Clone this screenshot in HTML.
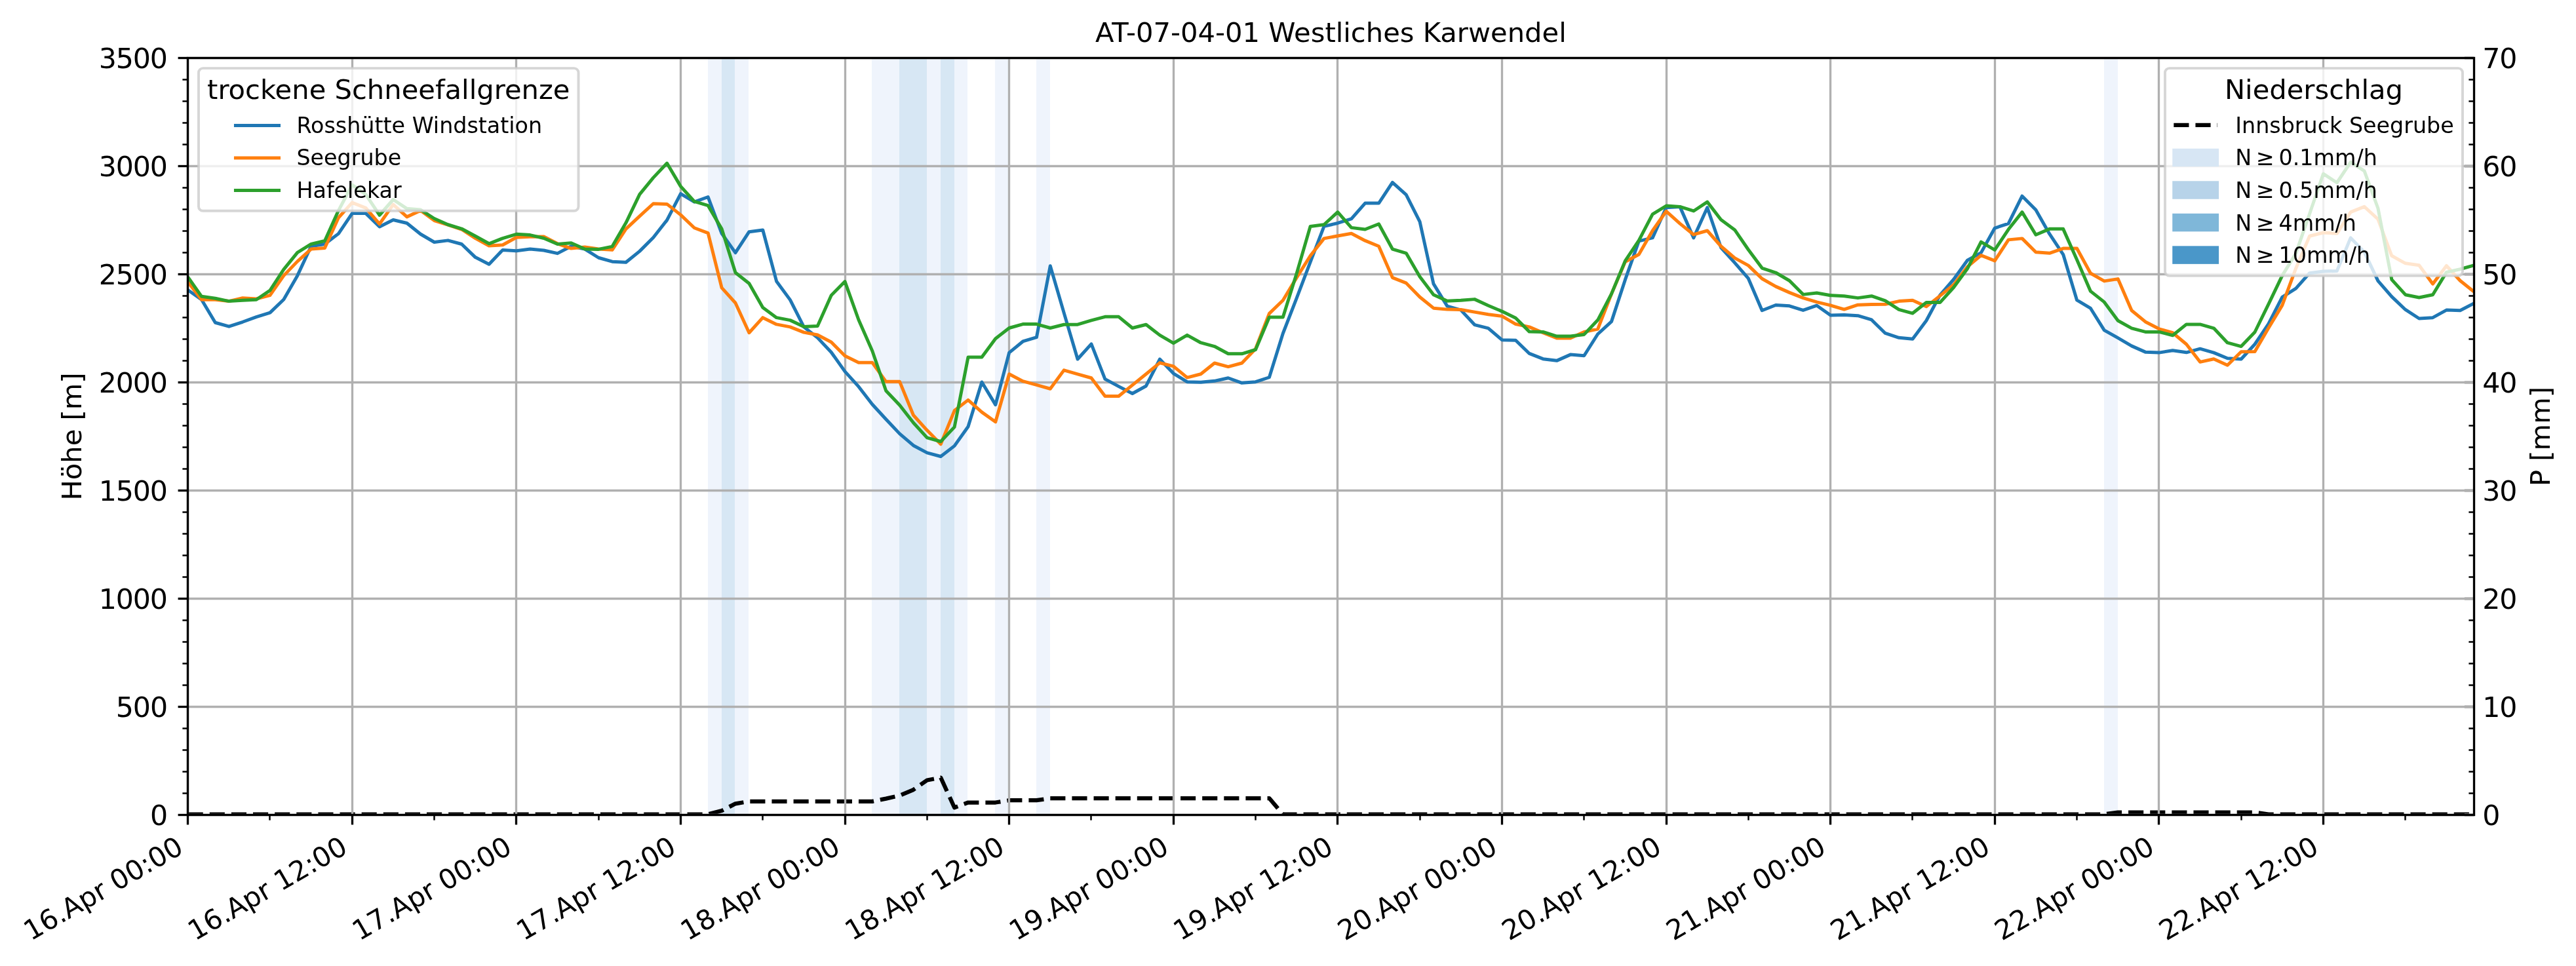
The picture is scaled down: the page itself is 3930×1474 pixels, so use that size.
<!DOCTYPE html>
<html lang="de"><head><meta charset="utf-8"><title>AT-07-04-01 Westliches Karwendel</title>
<style>html,body{margin:0;padding:0;background:#fff;}body{width:3930px;height:1474px;overflow:hidden;}svg{display:block;will-change:transform;}text{font-family:"DejaVu Sans","Liberation Sans",sans-serif;fill:#000;}</style>
</head><body>
<svg width="3930" height="1474" viewBox="0 0 3930 1474">
<defs><clipPath id="ax"><rect x="286.65" y="88.50" width="3487.50" height="1155.00"/></clipPath></defs>
<rect x="0" y="0" width="3930" height="1474" fill="#ffffff"/>
<g id="spans">
<rect x="1080.00" y="88.50" width="21.00" height="1155.00" fill="#eff4fc"/>
<rect x="1101.00" y="88.50" width="20.00" height="1155.00" fill="#d7e7f4"/>
<rect x="1121.00" y="88.50" width="21.00" height="1155.00" fill="#eff4fc"/>
<rect x="1330.00" y="88.50" width="42.00" height="1155.00" fill="#eff4fc"/>
<rect x="1372.00" y="88.50" width="42.00" height="1155.00" fill="#d7e7f4"/>
<rect x="1414.00" y="88.50" width="21.00" height="1155.00" fill="#eff4fc"/>
<rect x="1435.00" y="88.50" width="21.00" height="1155.00" fill="#d7e7f4"/>
<rect x="1456.00" y="88.50" width="20.00" height="1155.00" fill="#eff4fc"/>
<rect x="1518.00" y="88.50" width="21.00" height="1155.00" fill="#eff4fc"/>
<rect x="1581.00" y="88.50" width="21.00" height="1155.00" fill="#eff4fc"/>
<rect x="3210.00" y="88.50" width="21.00" height="1155.00" fill="#eff4fc"/>
</g>
<g clip-path="url(#ax)"><polyline points="286.65,1242.50 307.53,1242.50 328.42,1242.50 349.30,1242.50 370.18,1242.50 391.07,1242.50 411.95,1242.50 432.83,1242.50 453.72,1242.50 474.60,1242.50 495.48,1242.50 516.37,1242.50 537.25,1242.50 558.13,1242.50 579.02,1242.50 599.90,1242.50 620.78,1242.50 641.66,1242.50 662.55,1242.50 683.43,1242.50 704.31,1242.50 725.20,1242.50 746.08,1242.50 766.96,1242.50 787.85,1242.50 808.73,1242.50 829.61,1242.50 850.50,1242.50 871.38,1242.50 892.26,1242.50 913.15,1242.50 934.03,1242.50 954.91,1242.50 975.80,1242.50 996.68,1242.50 1017.56,1242.50 1038.45,1242.50 1059.33,1242.50 1080.21,1242.50 1101.10,1237.06 1121.98,1226.33 1142.86,1222.87 1163.75,1222.87 1184.63,1222.87 1205.51,1222.87 1226.40,1222.87 1247.28,1222.87 1268.16,1222.87 1289.05,1222.87 1309.93,1222.87 1330.81,1222.87 1351.69,1218.58 1372.58,1213.79 1393.46,1205.05 1414.34,1190.53 1435.23,1186.57 1456.11,1232.27 1476.99,1224.52 1497.88,1224.52 1518.76,1224.52 1539.64,1221.21 1560.53,1221.21 1581.41,1221.21 1602.29,1218.08 1623.18,1218.08 1644.06,1218.08 1664.94,1218.08 1685.83,1218.08 1706.71,1218.08 1727.59,1218.08 1748.48,1218.08 1769.36,1218.08 1790.24,1218.08 1811.13,1218.08 1832.01,1218.08 1852.89,1218.08 1873.78,1218.08 1894.66,1218.08 1915.54,1218.08 1936.43,1218.08 1957.31,1242.50 1978.19,1242.50 1999.08,1242.50 2019.96,1242.50 2040.84,1242.50 2061.72,1242.50 2082.61,1242.50 2103.49,1242.50 2124.37,1242.50 2145.26,1242.50 2166.14,1242.50 2187.02,1242.50 2207.91,1242.50 2228.79,1242.50 2249.67,1242.50 2270.56,1242.50 2291.44,1242.50 2312.32,1242.50 2333.21,1242.50 2354.09,1242.50 2374.97,1242.50 2395.86,1242.50 2416.74,1242.50 2437.62,1242.50 2458.51,1242.50 2479.39,1242.50 2500.27,1242.50 2521.16,1242.50 2542.04,1242.50 2562.92,1242.50 2583.81,1242.50 2604.69,1242.50 2625.57,1242.50 2646.46,1242.50 2667.34,1242.50 2688.22,1242.50 2709.11,1242.50 2729.99,1242.50 2750.87,1242.50 2771.75,1242.50 2792.64,1242.50 2813.52,1242.50 2834.40,1242.50 2855.29,1242.50 2876.17,1242.50 2897.05,1242.50 2917.94,1242.50 2938.82,1242.50 2959.70,1242.50 2980.59,1242.50 3001.47,1242.50 3022.35,1242.50 3043.24,1242.50 3064.12,1242.50 3085.00,1242.50 3105.89,1242.50 3126.77,1242.50 3147.65,1242.50 3168.54,1242.50 3189.42,1242.50 3210.30,1242.50 3231.19,1239.53 3252.07,1239.53 3272.95,1239.53 3293.84,1239.53 3314.72,1239.53 3335.60,1239.53 3356.49,1239.53 3377.37,1239.53 3398.25,1239.53 3419.14,1239.53 3440.02,1239.53 3460.90,1242.50 3481.78,1242.50 3502.67,1242.50 3523.55,1242.50 3544.43,1242.50 3565.32,1242.50 3586.20,1242.50 3607.08,1242.50 3627.97,1242.50 3648.85,1242.50 3669.73,1242.50 3690.62,1242.50 3711.50,1242.50 3732.38,1242.50 3753.27,1242.50 3774.15,1242.50" fill="none" stroke="#000" stroke-width="6.25" stroke-dasharray="23.125 10" stroke-linejoin="round"/></g>
<g id="rticks" stroke="#000" stroke-width="2.5">
<line x1="3766.40" y1="1210.50" x2="3774.50" y2="1210.50"/>
<line x1="3766.40" y1="1177.50" x2="3774.50" y2="1177.50"/>
<line x1="3766.40" y1="1144.50" x2="3774.50" y2="1144.50"/>
<line x1="3766.40" y1="1111.50" x2="3774.50" y2="1111.50"/>
<line x1="3766.40" y1="1045.50" x2="3774.50" y2="1045.50"/>
<line x1="3766.40" y1="1012.50" x2="3774.50" y2="1012.50"/>
<line x1="3766.40" y1="979.50" x2="3774.50" y2="979.50"/>
<line x1="3766.40" y1="946.50" x2="3774.50" y2="946.50"/>
<line x1="3766.40" y1="880.50" x2="3774.50" y2="880.50"/>
<line x1="3766.40" y1="847.50" x2="3774.50" y2="847.50"/>
<line x1="3766.40" y1="814.50" x2="3774.50" y2="814.50"/>
<line x1="3766.40" y1="781.50" x2="3774.50" y2="781.50"/>
<line x1="3766.40" y1="715.50" x2="3774.50" y2="715.50"/>
<line x1="3766.40" y1="682.50" x2="3774.50" y2="682.50"/>
<line x1="3766.40" y1="649.50" x2="3774.50" y2="649.50"/>
<line x1="3766.40" y1="616.50" x2="3774.50" y2="616.50"/>
<line x1="3766.40" y1="550.50" x2="3774.50" y2="550.50"/>
<line x1="3766.40" y1="517.50" x2="3774.50" y2="517.50"/>
<line x1="3766.40" y1="484.50" x2="3774.50" y2="484.50"/>
<line x1="3766.40" y1="451.50" x2="3774.50" y2="451.50"/>
<line x1="3766.40" y1="385.50" x2="3774.50" y2="385.50"/>
<line x1="3766.40" y1="352.50" x2="3774.50" y2="352.50"/>
<line x1="3766.40" y1="319.50" x2="3774.50" y2="319.50"/>
<line x1="3766.40" y1="286.50" x2="3774.50" y2="286.50"/>
<line x1="3766.40" y1="220.50" x2="3774.50" y2="220.50"/>
<line x1="3766.40" y1="187.50" x2="3774.50" y2="187.50"/>
<line x1="3766.40" y1="154.50" x2="3774.50" y2="154.50"/>
<line x1="3766.40" y1="121.50" x2="3774.50" y2="121.50"/>
</g>
<g id="grid" stroke="#b0b0b0" stroke-width="3.33">
<line x1="286.50" y1="88.50" x2="286.50" y2="1243.50"/>
<line x1="537.50" y1="88.50" x2="537.50" y2="1243.50"/>
<line x1="787.50" y1="88.50" x2="787.50" y2="1243.50"/>
<line x1="1038.50" y1="88.50" x2="1038.50" y2="1243.50"/>
<line x1="1289.50" y1="88.50" x2="1289.50" y2="1243.50"/>
<line x1="1539.50" y1="88.50" x2="1539.50" y2="1243.50"/>
<line x1="1790.50" y1="88.50" x2="1790.50" y2="1243.50"/>
<line x1="2040.50" y1="88.50" x2="2040.50" y2="1243.50"/>
<line x1="2291.50" y1="88.50" x2="2291.50" y2="1243.50"/>
<line x1="2542.50" y1="88.50" x2="2542.50" y2="1243.50"/>
<line x1="2792.50" y1="88.50" x2="2792.50" y2="1243.50"/>
<line x1="3043.50" y1="88.50" x2="3043.50" y2="1243.50"/>
<line x1="3293.50" y1="88.50" x2="3293.50" y2="1243.50"/>
<line x1="3544.50" y1="88.50" x2="3544.50" y2="1243.50"/>
<line x1="286.50" y1="1243.50" x2="3774.50" y2="1243.50"/>
<line x1="286.50" y1="1078.50" x2="3774.50" y2="1078.50"/>
<line x1="286.50" y1="913.50" x2="3774.50" y2="913.50"/>
<line x1="286.50" y1="748.50" x2="3774.50" y2="748.50"/>
<line x1="286.50" y1="583.50" x2="3774.50" y2="583.50"/>
<line x1="286.50" y1="418.50" x2="3774.50" y2="418.50"/>
<line x1="286.50" y1="253.50" x2="3774.50" y2="253.50"/>
<line x1="286.50" y1="88.50" x2="3774.50" y2="88.50"/>
</g>
<g id="rmaj" stroke="#b0b0b0" stroke-width="4.4">
<line x1="3759.90" y1="1243.50" x2="3774.50" y2="1243.50"/>
<line x1="3759.90" y1="1078.50" x2="3774.50" y2="1078.50"/>
<line x1="3759.90" y1="913.50" x2="3774.50" y2="913.50"/>
<line x1="3759.90" y1="748.50" x2="3774.50" y2="748.50"/>
<line x1="3759.90" y1="583.50" x2="3774.50" y2="583.50"/>
<line x1="3759.90" y1="418.50" x2="3774.50" y2="418.50"/>
<line x1="3759.90" y1="253.50" x2="3774.50" y2="253.50"/>
<line x1="3759.90" y1="88.50" x2="3774.50" y2="88.50"/>
</g>
<g id="ticks" stroke="#000">
<line x1="271.60" y1="1243.50" x2="286.50" y2="1243.50" stroke-width="3.33"/>
<line x1="278.40" y1="1210.50" x2="286.50" y2="1210.50" stroke-width="2.5"/>
<line x1="278.40" y1="1177.50" x2="286.50" y2="1177.50" stroke-width="2.5"/>
<line x1="278.40" y1="1144.50" x2="286.50" y2="1144.50" stroke-width="2.5"/>
<line x1="278.40" y1="1111.50" x2="286.50" y2="1111.50" stroke-width="2.5"/>
<line x1="271.60" y1="1078.50" x2="286.50" y2="1078.50" stroke-width="3.33"/>
<line x1="278.40" y1="1045.50" x2="286.50" y2="1045.50" stroke-width="2.5"/>
<line x1="278.40" y1="1012.50" x2="286.50" y2="1012.50" stroke-width="2.5"/>
<line x1="278.40" y1="979.50" x2="286.50" y2="979.50" stroke-width="2.5"/>
<line x1="278.40" y1="946.50" x2="286.50" y2="946.50" stroke-width="2.5"/>
<line x1="271.60" y1="913.50" x2="286.50" y2="913.50" stroke-width="3.33"/>
<line x1="278.40" y1="880.50" x2="286.50" y2="880.50" stroke-width="2.5"/>
<line x1="278.40" y1="847.50" x2="286.50" y2="847.50" stroke-width="2.5"/>
<line x1="278.40" y1="814.50" x2="286.50" y2="814.50" stroke-width="2.5"/>
<line x1="278.40" y1="781.50" x2="286.50" y2="781.50" stroke-width="2.5"/>
<line x1="271.60" y1="748.50" x2="286.50" y2="748.50" stroke-width="3.33"/>
<line x1="278.40" y1="715.50" x2="286.50" y2="715.50" stroke-width="2.5"/>
<line x1="278.40" y1="682.50" x2="286.50" y2="682.50" stroke-width="2.5"/>
<line x1="278.40" y1="649.50" x2="286.50" y2="649.50" stroke-width="2.5"/>
<line x1="278.40" y1="616.50" x2="286.50" y2="616.50" stroke-width="2.5"/>
<line x1="271.60" y1="583.50" x2="286.50" y2="583.50" stroke-width="3.33"/>
<line x1="278.40" y1="550.50" x2="286.50" y2="550.50" stroke-width="2.5"/>
<line x1="278.40" y1="517.50" x2="286.50" y2="517.50" stroke-width="2.5"/>
<line x1="278.40" y1="484.50" x2="286.50" y2="484.50" stroke-width="2.5"/>
<line x1="278.40" y1="451.50" x2="286.50" y2="451.50" stroke-width="2.5"/>
<line x1="271.60" y1="418.50" x2="286.50" y2="418.50" stroke-width="3.33"/>
<line x1="278.40" y1="385.50" x2="286.50" y2="385.50" stroke-width="2.5"/>
<line x1="278.40" y1="352.50" x2="286.50" y2="352.50" stroke-width="2.5"/>
<line x1="278.40" y1="319.50" x2="286.50" y2="319.50" stroke-width="2.5"/>
<line x1="278.40" y1="286.50" x2="286.50" y2="286.50" stroke-width="2.5"/>
<line x1="271.60" y1="253.50" x2="286.50" y2="253.50" stroke-width="3.33"/>
<line x1="278.40" y1="220.50" x2="286.50" y2="220.50" stroke-width="2.5"/>
<line x1="278.40" y1="187.50" x2="286.50" y2="187.50" stroke-width="2.5"/>
<line x1="278.40" y1="154.50" x2="286.50" y2="154.50" stroke-width="2.5"/>
<line x1="278.40" y1="121.50" x2="286.50" y2="121.50" stroke-width="2.5"/>
<line x1="271.60" y1="88.50" x2="286.50" y2="88.50" stroke-width="3.33"/>
<line x1="286.50" y1="1243.50" x2="286.50" y2="1258.40" stroke-width="3.33"/>
<line x1="411.50" y1="1243.50" x2="411.50" y2="1251.60" stroke-width="2.5"/>
<line x1="537.50" y1="1243.50" x2="537.50" y2="1258.40" stroke-width="3.33"/>
<line x1="662.50" y1="1243.50" x2="662.50" y2="1251.60" stroke-width="2.5"/>
<line x1="787.50" y1="1243.50" x2="787.50" y2="1258.40" stroke-width="3.33"/>
<line x1="913.50" y1="1243.50" x2="913.50" y2="1251.60" stroke-width="2.5"/>
<line x1="1038.50" y1="1243.50" x2="1038.50" y2="1258.40" stroke-width="3.33"/>
<line x1="1163.50" y1="1243.50" x2="1163.50" y2="1251.60" stroke-width="2.5"/>
<line x1="1289.50" y1="1243.50" x2="1289.50" y2="1258.40" stroke-width="3.33"/>
<line x1="1414.50" y1="1243.50" x2="1414.50" y2="1251.60" stroke-width="2.5"/>
<line x1="1539.50" y1="1243.50" x2="1539.50" y2="1258.40" stroke-width="3.33"/>
<line x1="1664.50" y1="1243.50" x2="1664.50" y2="1251.60" stroke-width="2.5"/>
<line x1="1790.50" y1="1243.50" x2="1790.50" y2="1258.40" stroke-width="3.33"/>
<line x1="1915.50" y1="1243.50" x2="1915.50" y2="1251.60" stroke-width="2.5"/>
<line x1="2040.50" y1="1243.50" x2="2040.50" y2="1258.40" stroke-width="3.33"/>
<line x1="2166.50" y1="1243.50" x2="2166.50" y2="1251.60" stroke-width="2.5"/>
<line x1="2291.50" y1="1243.50" x2="2291.50" y2="1258.40" stroke-width="3.33"/>
<line x1="2416.50" y1="1243.50" x2="2416.50" y2="1251.60" stroke-width="2.5"/>
<line x1="2542.50" y1="1243.50" x2="2542.50" y2="1258.40" stroke-width="3.33"/>
<line x1="2667.50" y1="1243.50" x2="2667.50" y2="1251.60" stroke-width="2.5"/>
<line x1="2792.50" y1="1243.50" x2="2792.50" y2="1258.40" stroke-width="3.33"/>
<line x1="2917.50" y1="1243.50" x2="2917.50" y2="1251.60" stroke-width="2.5"/>
<line x1="3043.50" y1="1243.50" x2="3043.50" y2="1258.40" stroke-width="3.33"/>
<line x1="3168.50" y1="1243.50" x2="3168.50" y2="1251.60" stroke-width="2.5"/>
<line x1="3293.50" y1="1243.50" x2="3293.50" y2="1258.40" stroke-width="3.33"/>
<line x1="3419.50" y1="1243.50" x2="3419.50" y2="1251.60" stroke-width="2.5"/>
<line x1="3544.50" y1="1243.50" x2="3544.50" y2="1258.40" stroke-width="3.33"/>
<line x1="3669.50" y1="1243.50" x2="3669.50" y2="1251.60" stroke-width="2.5"/>
</g>
<g clip-path="url(#ax)" fill="none" stroke-width="5" stroke-linejoin="round" stroke-linecap="butt">
<polyline points="286.65,442.42 307.53,457.27 328.42,492.25 349.30,498.20 370.18,491.26 391.07,483.67 411.95,477.08 432.83,456.95 453.72,420.64 474.60,375.76 495.48,372.47 516.37,356.62 537.25,325.61 558.13,325.61 579.02,346.07 599.90,335.50 620.78,340.46 641.66,357.28 662.55,369.50 683.43,366.86 704.31,372.47 725.20,392.60 746.08,403.15 766.96,381.38 787.85,382.70 808.73,380.05 829.61,382.03 850.50,386.65 871.38,375.76 892.26,380.05 913.15,393.25 934.03,399.20 954.91,400.18 975.80,383.36 996.68,362.57 1017.56,335.84 1038.45,295.58 1059.33,308.12 1080.21,300.52 1101.10,356.29 1121.98,385.66 1142.86,353.65 1163.75,351.01 1184.63,429.23 1205.51,457.61 1226.40,498.86 1247.28,515.36 1268.16,537.47 1289.05,566.84 1309.93,589.93 1330.81,617.00 1351.69,639.76 1372.58,661.88 1393.46,679.70 1414.34,690.91 1435.23,696.52 1456.11,680.36 1476.99,650.99 1497.88,583.00 1518.76,617.65 1539.64,538.12 1560.53,520.97 1581.41,514.70 1602.29,405.79 1623.18,477.40 1644.06,548.02 1664.94,524.92 1685.83,578.38 1706.71,589.61 1727.59,600.50 1748.48,588.95 1769.36,548.02 1790.24,569.80 1811.13,582.67 1832.01,583.34 1852.89,581.36 1873.78,576.74 1894.66,584.33 1915.54,582.67 1936.43,575.75 1957.31,508.75 1978.19,454.97 1999.08,399.86 2019.96,345.40 2040.84,340.46 2061.72,333.86 2082.61,310.10 2103.49,310.10 2124.37,278.41 2145.26,297.23 2166.14,338.48 2187.02,433.18 2207.91,467.17 2228.79,473.12 2249.67,495.55 2270.56,500.84 2291.44,518.65 2312.32,519.32 2333.21,539.45 2354.09,547.70 2374.97,550.34 2395.86,541.10 2416.74,542.75 2437.62,509.75 2458.51,490.61 2479.39,426.91 2500.27,367.85 2521.16,362.89 2542.04,316.70 2562.92,315.38 2583.81,362.89 2604.69,316.70 2625.57,377.75 2646.46,400.85 2667.34,424.93 2688.22,473.77 2709.11,465.52 2729.99,466.85 2750.87,473.45 2771.75,466.18 2792.64,481.03 2813.52,480.38 2834.40,481.70 2855.29,487.97 2876.17,508.42 2897.05,515.36 2917.94,517.34 2938.82,489.28 2959.70,450.35 2980.59,426.25 3001.47,397.22 3022.35,385.66 3043.24,348.04 3064.12,341.12 3085.00,299.21 3105.89,320.33 3126.77,356.96 3147.65,388.30 3168.54,457.93 3189.42,470.48 3210.30,503.80 3231.19,515.68 3252.07,527.89 3272.95,537.13 3293.84,538.12 3314.72,534.83 3335.60,537.79 3356.49,532.18 3377.37,538.12 3398.25,546.71 3419.14,548.02 3440.02,525.25 3460.90,494.24 3481.78,453.32 3502.67,440.12 3523.55,416.68 3544.43,414.04 3565.32,413.38 3586.20,362.89 3607.08,384.67 3627.97,428.57 3648.85,452.65 3669.73,472.46 3690.62,485.99 3711.50,484.66 3732.38,473.12 3753.27,473.77 3774.15,462.88" stroke="#1f77b4"/>
<polyline points="286.65,430.22 307.53,457.27 328.42,457.27 349.30,459.59 370.18,454.63 391.07,455.96 411.95,450.67 432.83,420.64 453.72,398.87 474.60,380.05 495.48,378.40 516.37,332.21 537.25,309.11 558.13,317.36 579.02,341.77 599.90,312.08 620.78,330.88 641.66,321.32 662.55,336.50 683.43,343.10 704.31,350.02 725.20,363.55 746.08,375.11 766.96,373.78 787.85,362.24 808.73,361.25 829.61,360.91 850.50,371.80 871.38,379.07 892.26,377.09 913.15,380.05 934.03,381.38 954.91,349.37 975.80,329.89 996.68,310.75 1017.56,311.41 1038.45,327.91 1059.33,347.72 1080.21,355.63 1101.10,439.12 1121.98,462.23 1142.86,507.76 1163.75,484.66 1184.63,494.89 1205.51,498.86 1226.40,507.11 1247.28,511.07 1268.16,521.96 1289.05,543.08 1309.93,553.30 1330.81,553.30 1351.69,582.35 1372.58,582.35 1393.46,633.50 1414.34,656.60 1435.23,677.72 1456.11,626.57 1476.99,610.39 1497.88,628.88 1518.76,643.73 1539.64,570.79 1560.53,581.68 1581.41,587.29 1602.29,593.24 1623.18,564.86 1644.06,570.79 1664.94,576.74 1685.83,604.46 1706.71,604.46 1727.59,587.62 1748.48,570.79 1769.36,553.63 1790.24,558.91 1811.13,576.08 1832.01,570.79 1852.89,553.97 1873.78,559.58 1894.66,553.97 1915.54,532.18 1936.43,478.39 1957.31,458.26 1978.19,423.62 1999.08,390.28 2019.96,363.88 2040.84,359.92 2061.72,356.29 2082.61,367.18 2103.49,375.76 2124.37,423.62 2145.26,431.87 2166.14,453.32 2187.02,470.14 2207.91,472.12 2228.79,472.46 2249.67,476.09 2270.56,479.72 2291.44,482.36 2312.32,494.57 2333.21,498.86 2354.09,507.76 2374.97,516.01 2395.86,516.01 2416.74,506.45 2437.62,502.15 2458.51,448.37 2479.39,399.52 2500.27,388.30 2521.16,352.00 2542.04,322.30 2562.92,341.12 2583.81,357.95 2604.69,352.00 2625.57,375.76 2646.46,393.59 2667.34,405.13 2688.22,425.26 2709.11,437.14 2729.99,446.38 2750.87,454.63 2771.75,460.90 2792.64,465.86 2813.52,472.12 2834.40,465.20 2855.29,464.53 2876.17,464.21 2897.05,459.59 2917.94,458.26 2938.82,467.84 2959.70,451.34 2980.59,434.50 3001.47,407.12 3022.35,389.62 3043.24,397.88 3064.12,365.87 3085.00,363.88 3105.89,384.67 3126.77,386.33 3147.65,379.07 3168.54,379.07 3189.42,417.01 3210.30,428.89 3231.19,425.60 3252.07,473.77 3272.95,490.93 3293.84,501.83 3314.72,507.76 3335.60,525.25 3356.49,552.32 3377.37,547.70 3398.25,557.26 3419.14,536.80 3440.02,536.48 3460.90,500.50 3481.78,465.86 3502.67,409.42 3523.55,360.25 3544.43,354.98 3565.32,356.29 3586.20,323.62 3607.08,315.38 3627.97,334.51 3648.85,390.28 3669.73,401.84 3690.62,404.80 3711.50,433.18 3732.38,405.47 3753.27,428.24 3774.15,445.07" stroke="#ff7f0e"/>
<polyline points="286.65,422.62 307.53,452.33 328.42,455.29 349.30,459.59 370.18,458.26 391.07,457.27 411.95,443.09 432.83,411.08 453.72,385.34 474.60,372.47 495.48,367.51 516.37,321.32 537.25,282.04 558.13,296.89 579.02,328.25 599.90,304.49 620.78,318.35 641.66,320.00 662.55,333.52 683.43,342.76 704.31,349.03 725.20,360.25 746.08,371.80 766.96,363.55 787.85,357.28 808.73,358.61 829.61,363.55 850.50,372.47 871.38,370.82 892.26,380.05 913.15,380.38 934.03,376.10 954.91,340.12 975.80,296.57 996.68,271.15 1017.56,249.04 1038.45,284.36 1059.33,307.46 1080.21,313.73 1101.10,349.37 1121.98,416.02 1142.86,432.52 1163.75,469.15 1184.63,484.66 1205.51,488.62 1226.40,498.52 1247.28,497.53 1268.16,450.67 1289.05,429.55 1309.93,487.97 1330.81,535.49 1351.69,596.21 1372.58,618.32 1393.46,645.04 1414.34,667.82 1435.23,673.75 1456.11,651.64 1476.99,545.05 1497.88,545.05 1518.76,516.67 1539.64,500.50 1560.53,494.57 1581.41,494.57 1602.29,500.50 1623.18,495.23 1644.06,495.23 1664.94,488.96 1685.83,483.35 1706.71,483.35 1727.59,500.50 1748.48,495.23 1769.36,511.39 1790.24,523.61 1811.13,511.39 1832.01,522.95 1852.89,528.55 1873.78,539.77 1894.66,539.77 1915.54,533.50 1936.43,484.00 1957.31,484.00 1978.19,417.35 1999.08,345.40 2019.96,342.76 2040.84,323.62 2061.72,347.38 2082.61,350.02 2103.49,341.77 2124.37,380.05 2145.26,386.33 2166.14,422.29 2187.02,449.68 2207.91,459.25 2228.79,458.26 2249.67,456.62 2270.56,466.18 2291.44,475.10 2312.32,485.33 2333.21,506.12 2354.09,506.45 2374.97,513.04 2395.86,513.04 2416.74,510.40 2437.62,488.29 2458.51,448.37 2479.39,398.21 2500.27,366.86 2521.16,326.92 2542.04,314.05 2562.92,315.38 2583.81,321.98 2604.69,308.12 2625.57,335.17 2646.46,350.68 2667.34,381.04 2688.22,409.10 2709.11,416.02 2729.99,428.24 2750.87,449.36 2771.75,447.04 2792.64,450.67 2813.52,451.66 2834.40,454.63 2855.29,451.66 2876.17,458.92 2897.05,472.46 2917.94,478.07 2938.82,461.57 2959.70,461.57 2980.59,438.47 3001.47,410.09 3022.35,369.16 3043.24,381.38 3064.12,350.02 3085.00,323.62 3105.89,358.27 3126.77,349.37 3147.65,349.37 3168.54,396.23 3189.42,444.40 3210.30,460.90 3231.19,489.28 3252.07,500.84 3272.95,506.45 3293.84,506.45 3314.72,511.73 3335.60,494.89 3356.49,494.89 3377.37,500.84 3398.25,522.95 3419.14,528.55 3440.02,506.77 3460.90,464.21 3481.78,420.64 3502.67,386.65 3523.55,326.26 3544.43,265.22 3565.32,278.75 3586.20,247.39 3607.08,260.92 3627.97,318.01 3648.85,426.59 3669.73,449.68 3690.62,453.98 3711.50,449.68 3732.38,415.37 3753.27,410.75 3774.15,404.80" stroke="#2ca02c"/>
</g>
<rect x="286.50" y="88.50" width="3488.00" height="1155.00" fill="none" stroke="#000" stroke-width="3.33"/>
<g id="ylabels" font-size="42.7" letter-spacing="-1.15" text-anchor="end">
<text x="254.90" y="1259.20">0</text>
<text x="254.90" y="1094.20">500</text>
<text x="254.90" y="929.20">1000</text>
<text x="254.90" y="764.20">1500</text>
<text x="254.90" y="599.20">2000</text>
<text x="254.90" y="434.20">2500</text>
<text x="254.90" y="269.20">3000</text>
<text x="254.90" y="104.20">3500</text>
</g>
<g id="y2labels" font-size="42.7" letter-spacing="-1.15" text-anchor="start">
<text x="3787.30" y="1259.20">0</text>
<text x="3787.30" y="1094.20">10</text>
<text x="3787.30" y="929.20">20</text>
<text x="3787.30" y="764.20">30</text>
<text x="3787.30" y="599.20">40</text>
<text x="3787.30" y="434.20">50</text>
<text x="3787.30" y="269.20">60</text>
<text x="3787.30" y="104.20">70</text>
</g>
<g id="xlabels" font-size="41.667" text-anchor="end">
<text transform="translate(282.15,1300.30) rotate(-30)">16.Apr 00:00</text>
<text transform="translate(532.75,1300.30) rotate(-30)">16.Apr 12:00</text>
<text transform="translate(783.35,1300.30) rotate(-30)">17.Apr 00:00</text>
<text transform="translate(1033.95,1300.30) rotate(-30)">17.Apr 12:00</text>
<text transform="translate(1284.55,1300.30) rotate(-30)">18.Apr 00:00</text>
<text transform="translate(1535.14,1300.30) rotate(-30)">18.Apr 12:00</text>
<text transform="translate(1785.74,1300.30) rotate(-30)">19.Apr 00:00</text>
<text transform="translate(2036.34,1300.30) rotate(-30)">19.Apr 12:00</text>
<text transform="translate(2286.94,1300.30) rotate(-30)">20.Apr 00:00</text>
<text transform="translate(2537.54,1300.30) rotate(-30)">20.Apr 12:00</text>
<text transform="translate(2788.14,1300.30) rotate(-30)">21.Apr 00:00</text>
<text transform="translate(3038.74,1300.30) rotate(-30)">21.Apr 12:00</text>
<text transform="translate(3289.34,1300.30) rotate(-30)">22.Apr 00:00</text>
<text transform="translate(3539.93,1300.30) rotate(-30)">22.Apr 12:00</text>
</g>
<text font-size="41.667" text-anchor="middle" transform="translate(124.3,666.00) rotate(-90)">Höhe [m]</text>
<text font-size="41.667" text-anchor="middle" transform="translate(3889.6,666.00) rotate(-90)">P [mm]</text>
<text font-size="41.667" text-anchor="middle" x="2030.40" y="63.9">AT-07-04-01 Westliches Karwendel</text>
<g id="legend1">
<rect x="303.00" y="104.10" width="579.50" height="217.70" rx="6.67" ry="6.67" fill="#fff" fill-opacity="0.8" stroke="#ccc" stroke-opacity="0.8" stroke-width="3.90"/>
<text font-size="41.667" text-anchor="middle" x="592.75" y="150.9">trockene Schneefallgrenze</text>
<line x1="359.46" y1="191.40" x2="425.5" y2="191.40" stroke="#1f77b4" stroke-width="5" stroke-linecap="square"/>
<text font-size="33.333" x="452.4" y="202.90">Rosshütte Windstation</text>
<line x1="359.46" y1="240.95" x2="425.5" y2="240.95" stroke="#ff7f0e" stroke-width="5" stroke-linecap="square"/>
<text font-size="33.333" x="452.4" y="252.45">Seegrube</text>
<line x1="359.46" y1="290.50" x2="425.5" y2="290.50" stroke="#2ca02c" stroke-width="5" stroke-linecap="square"/>
<text font-size="33.333" x="452.4" y="302.00">Hafelekar</text>
</g>
<g id="legend2">
<rect x="3303.00" y="104.10" width="454.00" height="316.80" rx="6.67" ry="6.67" fill="#fff" fill-opacity="0.8" stroke="#ccc" stroke-opacity="0.8" stroke-width="3.90"/>
<text font-size="41.667" text-anchor="middle" x="3530.00" y="151.0">Niederschlag</text>
<line x1="3316.33" y1="190.90" x2="3383.00" y2="190.90" stroke="#000" stroke-width="6.25" stroke-dasharray="23.125 10"/>
<text font-size="33.333" x="3410.27" y="202.90">Innsbruck Seegrube</text>
<rect x="3314.25" y="226.70" width="70.84" height="27.50" fill="#d7e6f4"/>
<text font-size="33.333" x="3410.27" y="252.45">N<tspan dx="6.67">≥</tspan><tspan dx="6.67">0.1mm/h</tspan></text>
<rect x="3314.25" y="276.25" width="70.84" height="27.50" fill="#b7d3e9"/>
<text font-size="33.333" x="3410.27" y="302.00">N<tspan dx="6.67">≥</tspan><tspan dx="6.67">0.5mm/h</tspan></text>
<rect x="3314.25" y="325.80" width="70.84" height="27.50" fill="#7fb7d9"/>
<text font-size="33.333" x="3410.27" y="351.55">N<tspan dx="6.67">≥</tspan><tspan dx="6.67">4mm/h</tspan></text>
<rect x="3314.25" y="375.35" width="70.84" height="27.50" fill="#4a97c9"/>
<text font-size="33.333" x="3410.27" y="401.10">N<tspan dx="6.67">≥</tspan><tspan dx="6.67">10mm/h</tspan></text>
</g>
</svg></body></html>
